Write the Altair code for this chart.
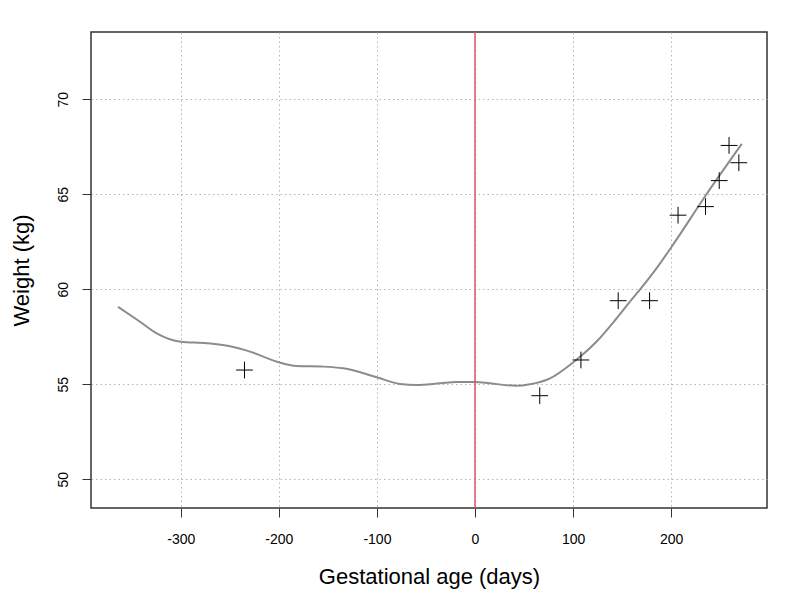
import altair as alt
import pandas as pd

# Observed weights (points)
obs_days = [-235, 66, 108, 146, 178, 207, 235, 249, 259, 269]
obs_weight = [55.75, 54.4, 56.28, 59.4, 59.4, 63.9, 64.35, 65.72, 67.57, 66.66]

# Smoothed trajectory (curve)
curve_days = [-364, -341.5, -324.5, -300, -273.5, -249.7, -229.4, -202, -181.8, -154.6,
              -134.2, -100.2, -76.5, -59.4, -35.7, -18.7, 0, 15.3, 42, 56, 76, 100,
              124, 144, 158, 170, 185, 200, 236, 272]
curve_weight = [59.08, 58.29, 57.68, 57.24, 57.16, 57.0, 56.72, 56.19, 55.96, 55.93,
                55.84, 55.37, 55.02, 54.96, 55.05, 55.12, 55.12, 55.05, 54.92, 55.0, 55.3, 56.15,
                57.25, 58.45, 59.35, 60.1, 61.1, 62.2, 65.0, 67.65]

x_ticks = [-300, -200, -100, 0, 100, 200]
y_ticks = [50, 55, 60, 65, 70]
ref_day = [0]

obs = pd.DataFrame({"day": obs_days, "weight": obs_weight})
curve = pd.DataFrame({"day": curve_days, "weight": curve_weight})
ref = pd.DataFrame({"day": ref_day})

FONT = "Liberation Sans"

xscale = alt.Scale(domain=[-391.5, 297.7], nice=False, zero=False)
yscale = alt.Scale(domain=[48.49, 73.54], nice=False, zero=False)

xaxis = alt.Axis(values=x_ticks, title="Gestational age (days)", grid=True,
                 gridColor="#b4b4b4", gridDash=[1.5, 3], gridWidth=1,
                 domain=False, ticks=True, tickSize=9, tickColor="#333333",
                 labelExpr="'' + datum.value",
                 labelFont=FONT, labelFontSize=14, labelColor="black",
                 labelPadding=15, labelBaseline="top",
                 titleFont=FONT, titleFontSize=22, titleFontWeight="normal",
                 titleColor="black", titleBaseline="alphabetic", titleY=75)
yaxis = alt.Axis(values=y_ticks, title="Weight (kg)", grid=True,
                 gridColor="#b4b4b4", gridDash=[1.5, 3], gridWidth=1,
                 domain=False, ticks=True, tickSize=9, tickColor="#333333",
                 labelExpr="'' + datum.value",
                 labelFont=FONT, labelFontSize=14, labelColor="black",
                 labelAngle=270, labelAlign="center", labelBaseline="bottom",
                 labelPadding=12,
                 titleFont=FONT, titleFontSize=22, titleFontWeight="normal",
                 titleColor="black", titleBaseline="alphabetic", titleX=-63)

base_x = alt.X("day:Q", scale=xscale, axis=xaxis)
base_y = alt.Y("weight:Q", scale=yscale, axis=yaxis)

line = alt.Chart(curve).mark_line(color="#8c8c8c", strokeWidth=2, interpolate="monotone").encode(
    x=base_x, y=base_y, order="day:Q")

pts = alt.Chart(obs).mark_point(shape="M-1,0L1,0M0,-1L0,1", filled=False, stroke="black",
                                strokeWidth=1, size=280, opacity=1).encode(
    x=alt.X("day:Q", scale=xscale), y=alt.Y("weight:Q", scale=yscale))

vline = alt.Chart(ref).mark_rule(color="#DF536B", strokeWidth=1.5).encode(
    x=alt.X("day:Q", scale=xscale))

chart = alt.layer(line, vline, pts).properties(
    width=676, height=476,
    background="white",
    autosize=alt.AutoSizeParams(type="none"),
    padding={"left": 83, "top": 24, "right": 25, "bottom": 84},
).configure_view(stroke="#333333", strokeWidth=1.5)

chart.save("out.html", embed_options={"renderer": "svg", "actions": False})
